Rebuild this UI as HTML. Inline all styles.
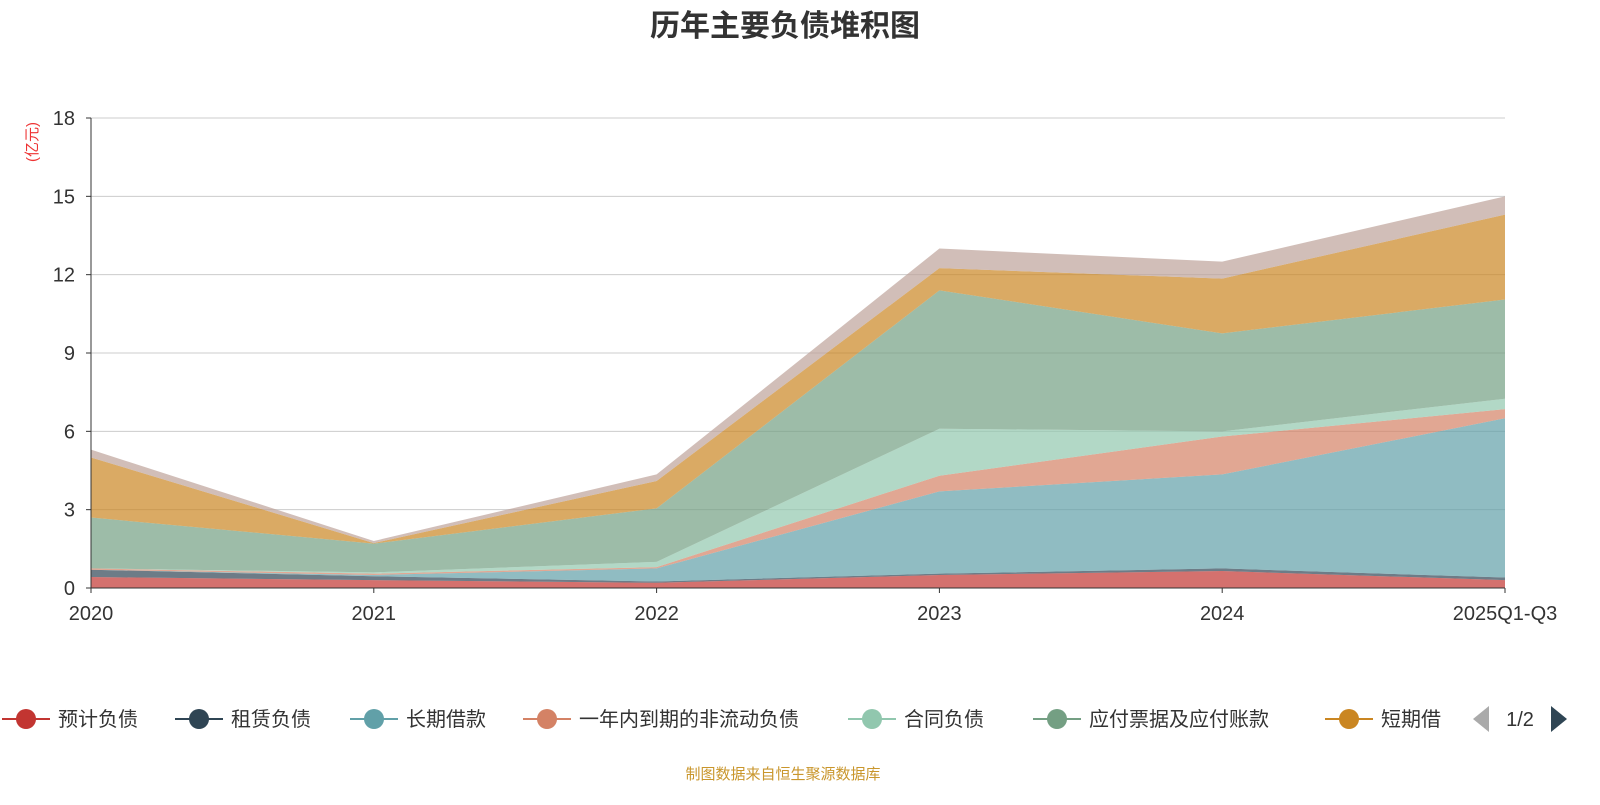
<!DOCTYPE html>
<html><head><meta charset="utf-8"><style>
body{margin:0;background:#fff;width:1600px;height:800px;overflow:hidden;font-family:"Liberation Sans","Noto Sans CJK SC",sans-serif}
</style></head><body>
<svg id="c" width="1600" height="800"></svg>
<script>
const categories=["2020","2021","2022","2023","2024","2025Q1-Q3"];
const seriesNames=["预计负债","租赁负债","长期借款","一年内到期的非流动负债","合同负债","应付票据及应付账款","短期借款","其他"];
const s_pred=[0.42,0.3,0.2,0.5,0.65,0.3];
const s_lease=[0.28,0.15,0.05,0.05,0.1,0.1];
const s_long=[0.0,0.05,0.5,3.15,3.6,6.1];
const s_curr=[0.05,0.05,0.05,0.6,1.45,0.35];
const s_contract=[0.0,0.05,0.2,1.8,0.2,0.4];
const s_pay=[1.95,1.1,2.05,5.3,3.75,3.8];
const s_short=[2.3,0.02,1.05,0.85,2.1,3.25];
const s_other=[0.3,0.08,0.25,0.75,0.65,0.7];
const yTicks=[0,3,6,9,12,15,18];
const colors=["#c23531","#2f4554","#61a0a8","#d48265","#91c7ae","#749f83","#ca8622","#bda29a"];
const series=[s_pred,s_lease,s_long,s_curr,s_contract,s_pay,s_short,s_other];
const NS="http://www.w3.org/2000/svg",svg=document.getElementById('c');
const X0=91,X1=1505,Y0=588,Y1=118;
const xs=i=>X0+(X1-X0)*i/(categories.length-1);
const ys=v=>Y0-(Y0-Y1)*v/18;
function el(t,a,p){const e=document.createElementNS(NS,t);for(const k in a)e.setAttribute(k,a[k]);(p||svg).appendChild(e);return e;}
const title=el('text',{x:785,y:36,'text-anchor':'middle','font-size':30,'font-weight':'bold',fill:'#333'});title.textContent='历年主要负债堆积图';


yTicks.forEach(t=>{
  if(t>0){const g=el('line',{x1:X0,x2:X1,y1:ys(t),y2:ys(t),stroke:'#ccc'});}
  const tx=el('text',{x:75,y:ys(t)+7,'text-anchor':'end','font-size':20,fill:'#333'});tx.textContent=t;
  
  
  el('line',{x1:X0-5,x2:X0,y1:ys(t),y2:ys(t),stroke:'#333'});
});
const yl=el('text',{x:0,y:0,transform:'translate(37,142) rotate(-90)','text-anchor':'middle','font-size':15,fill:'#e33'});yl.textContent='(亿元)';


let base=categories.map(()=>0);
series.forEach((s,k)=>{
  const top=base.map((b,i)=>b+s[i]);
  let d='M'+top.map((v,i)=>xs(i)+','+ys(v)).join('L');
  for(let i=base.length-1;i>=0;i--)d+='L'+xs(i)+','+ys(base[i]);
  const a=el('path',{d:d+'Z',fill:colors[k],'fill-opacity':0.7});
  
  
  base=top;
});
el('line',{x1:X0,x2:X0,y1:Y1,y2:Y0,stroke:'#333'});
el('line',{x1:X0,x2:X1,y1:Y0,y2:Y0,stroke:'#333'});
categories.forEach((c,i)=>{
  el('line',{x1:xs(i),x2:xs(i),y1:Y0,y2:Y0+5,stroke:'#333'});
  const t=el('text',{x:xs(i),y:620,'text-anchor':'middle','font-size':20,fill:'#333'});t.textContent=c;
  
  
});
const lx=[2,175,350,523,848,1033,1325];
const names=["预计负债","租赁负债","长期借款","一年内到期的非流动负债","合同负债","应付票据及应付账款","短期借"];
names.forEach((n,i)=>{
  const g=el('g',{});
  
  
  el('line',{x1:lx[i],x2:lx[i]+48,y1:719,y2:719,stroke:colors[i],'stroke-width':2},g);
  el('circle',{cx:lx[i]+24,cy:719,r:10,fill:colors[i]},g);
  const t=el('text',{x:lx[i]+56,y:726,'font-size':20,fill:'#333'},g);t.textContent=n;
});
const pl=el('path',{d:'M1489,706L1473,719L1489,732Z',fill:'#aaa'});
const pt=el('text',{x:1520,y:726,'text-anchor':'middle','font-size':20,fill:'#333'});pt.textContent='1/2';

const pr=el('path',{d:'M1551,706L1567,719L1551,732Z',fill:'#2f4554'});
const ft=el('text',{x:783,y:779,'text-anchor':'middle','font-size':15,fill:'#c9962c'});ft.textContent='制图数据来自恒生聚源数据库';

</script></body></html>
